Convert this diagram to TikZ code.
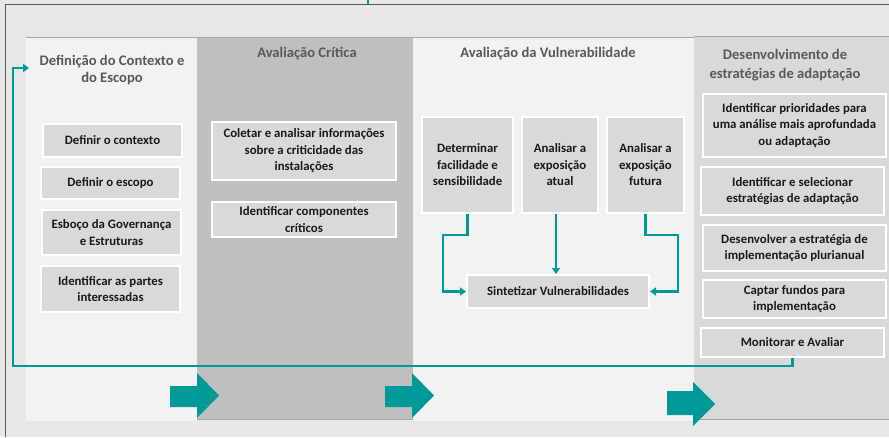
\documentclass[tikz,border=0pt]{standalone}
\usepackage{fontspec}
\setmainfont{Carlito}
\usetikzlibrary{arrows.meta}
\definecolor{outerbg}{HTML}{E7E7E7}
\definecolor{lightcol}{HTML}{F2F2F2}
\definecolor{midcol}{HTML}{BFBFBF}
\definecolor{boxgray}{HTML}{D9D9D9}
\definecolor{txtdark}{HTML}{1A1A1A}
\definecolor{headgray}{HTML}{595959}
\definecolor{teal}{RGB}{0,153,153}
\definecolor{edgegray}{HTML}{A6A6A6}
\tikzset{
  stepbox/.style={fill=boxgray, draw=white, line width=2pt, inner sep=1pt,
    align=center, font=\fontsize{12.8}{16.5}\selectfont\bfseries, text=txtdark},
  heading/.style={align=center, font=\fontsize{14.6}{17}\selectfont\bfseries, text=headgray},
  link/.style={draw=teal, line width=2.2pt},
  linkarrow/.style={link, -{Triangle[length=6pt,width=8pt]}},
  blockarrow/.style={fill=teal, draw=none}
}
\begin{document}
\begin{tikzpicture}[x=1pt,y=-1pt]
\useasboundingbox (0,0) rectangle (889,437);
% background
\fill[outerbg] (0,0) rectangle (889,437);
\draw[headgray, line width=1pt] (5,437) -- (5,4) -- (889,4);
\draw[teal, line width=1.5pt] (368,0) -- (368,4);
% columns
\fill[lightcol] (26,37) rectangle (197,421);
\fill[midcol] (197,37) rectangle (413,419.5);
\fill[lightcol] (413,37) rectangle (694,421);
\fill[boxgray] (694,36) rectangle (889,419.5);
\draw[edgegray, line width=0.8pt] (26,37) -- (694,37);
\draw[edgegray, line width=0.8pt] (694,36) -- (889,36);
\draw[edgegray, line width=0.8pt] (197,419.5) -- (413,419.5);
\draw[edgegray, line width=0.8pt] (694,419.5) -- (889,419.5);
% headings
\node[heading] (h1) at (112,70.5) {Definição do Contexto e\\do Escopo};
\node[heading] (h2) at (307,54) {Avaliação Crítica};
\node[heading] (h3) at (548,54) {Avaliação da Vulnerabilidade};
\node[heading, font=\fontsize{14.6}{19}\selectfont\bfseries] (h4) at (785,65.5) {Desenvolvimento de\\estratégias de adaptação};
% column 1
\node[stepbox, minimum width=139pt, minimum height=33pt] (ctx) at (112.5,140.5) {Definir o contexto};
\node[stepbox, minimum width=139pt, minimum height=32pt] (esc) at (110.5,183) {Definir o escopo};
\node[stepbox, minimum width=139pt, minimum height=45pt] (gov) at (111.5,232.5) {Esboço da Governança\\e Estruturas};
\node[stepbox, minimum width=139pt, minimum height=46pt] (partes) at (110.5,289) {Identificar as partes\\interessadas};
% column 2
\node[stepbox, minimum width=184pt, minimum height=58pt] (coletar) at (304,151) {Coletar e analisar informações\\sobre a criticidade das\\instalações};
\node[stepbox, minimum width=184pt, minimum height=35pt] (comp) at (304,219.5) {Identificar componentes\\críticos};
% column 3
\node[stepbox, minimum width=91pt, minimum height=96pt] (det) at (467.5,165) {Determinar\\facilidade e\\sensibilidade};
\node[stepbox, minimum width=76pt, minimum height=96pt] (atual) at (560,165) {Analisar a\\exposição\\atual};
\node[stepbox, minimum width=77pt, minimum height=96pt] (fut) at (645.5,165) {Analisar a\\exposição\\futura};
\node[stepbox, minimum width=182pt, minimum height=33pt] (synth) at (558,291.5) {Sintetizar Vulnerabilidades};
% column 4
\node[stepbox, minimum width=183pt, minimum height=63pt] (prio) at (794.5,125.5) {Identificar prioridades para\\uma análise mais aprofundada\\ou adaptação};
\node[stepbox, minimum width=183pt, minimum height=48pt] (sel) at (792.5,191) {Identificar e selecionar\\estratégias de adaptação};
\node[stepbox, minimum width=183pt, minimum height=46pt] (dev) at (794.5,248) {Desenvolver a estratégia de\\implementação plurianual};
\node[stepbox, minimum width=183pt, minimum height=38pt] (fund) at (794.5,299) {Captar fundos para\\implementação};
\node[stepbox, minimum width=183pt, minimum height=29pt] (mon) at (792.5,342.5) {Monitorar e Avaliar};
% connectors in column 3
\coordinate (dl1) at (443,235);
\coordinate (dr1) at (678,235);
\draw[linkarrow] (det.south) |- (dl1) |- (synth.west);
\draw[linkarrow] ([xshift=-4pt]atual.south) -- ([xshift=-4pt]atual.south |- synth.north);
\draw[linkarrow] (fut.south) |- (dr1) |- (synth.east);
% feedback loop
\coordinate (fb1) at (13,366);
\coordinate (fb2) at (29,68);
\draw[linkarrow] (mon.south) |- (fb1) |- (fb2);
% block arrows
\fill[blockarrow] (170,386) -- (197,386) -- (197,373) -- (219,395.5) -- (197,418) -- (197,407) -- (170,407) -- cycle;
\fill[blockarrow] (385,386) -- (412,386) -- (412,373) -- (434,395.5) -- (412,418) -- (412,407) -- (385,407) -- cycle;
\fill[blockarrow] (667,391) -- (693,391) -- (693,382) -- (715,404) -- (693,426) -- (693,415) -- (667,415) -- cycle;
\end{tikzpicture}
\end{document}
